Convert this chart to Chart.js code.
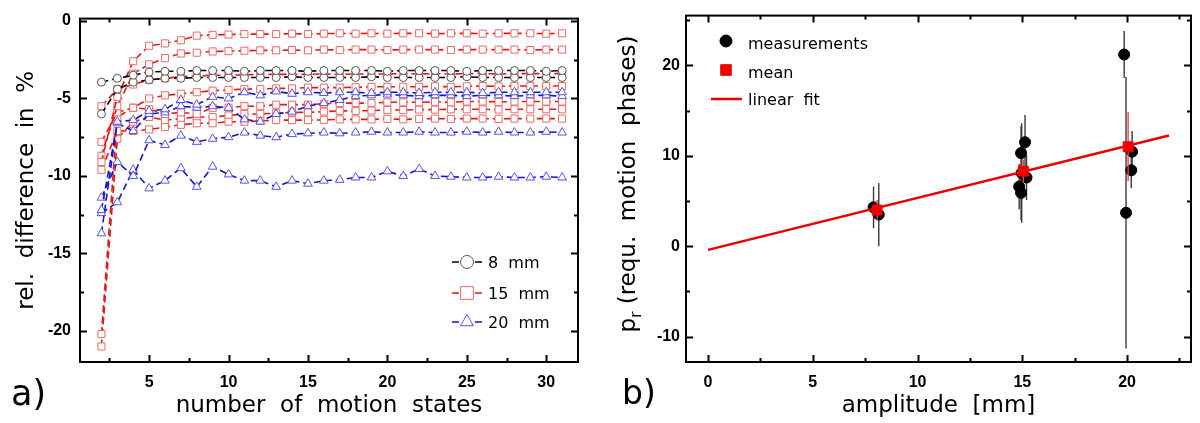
<!DOCTYPE html>
<html>
<head>
<meta charset="utf-8">
<script src="https://cdn.jsdelivr.net/npm/chart.js@4.4.0/dist/chart.umd.min.js"></script>
<style>
  body { margin: 0; background: #fff; }
  #wrap { position: relative; width: 1200px; height: 423px; }
  .panel { position: absolute; top: 0; width: 600px; height: 423px; }
</style>
</head>
<body>
<div id="wrap">
  <div class="panel" style="left:0"><canvas id="chartA"></canvas></div>
  <div class="panel" style="left:600px"><canvas id="chartB"></canvas></div>
</div>
<script>
// ---- panel a: relative difference vs number of motion states ----
const xStates = [2, 3, 4, 5, 6, 7, 8, 9, 10, 11,
                 12, 13, 14, 15, 16, 17, 18, 19, 20, 21,
                 22, 23, 24, 25, 26, 27, 28, 29, 30, 31];

// 8 mm
const diff8mmA = [-3.95, -3.70, -3.50, -3.30, -3.25, -3.25, -3.20, -3.20, -3.20, -3.25,
                  -3.20, -3.20, -3.20, -3.25, -3.20, -3.20, -3.20, -3.20, -3.25, -3.20,
                  -3.20, -3.20, -3.20, -3.25, -3.20, -3.20, -3.20, -3.20, -3.25, -3.20];
const diff8mmB = [-6.00, -4.40, -3.95, -3.80, -3.70, -3.70, -3.65, -3.65, -3.65, -3.65,
                  -3.65, -3.65, -3.60, -3.65, -3.65, -3.65, -3.65, -3.60, -3.65, -3.65,
                  -3.65, -3.65, -3.65, -3.60, -3.65, -3.65, -3.65, -3.65, -3.65, -3.65];
// 15 mm
const diff15mmA = [-9.10, -4.90, -2.60, -1.60, -1.45, -1.25, -0.95, -0.90, -0.88, -0.85,
                   -0.85, -0.85, -0.82, -0.85, -0.82, -0.80, -0.82, -0.80, -0.82, -0.80,
                   -0.80, -0.82, -0.80, -0.80, -0.82, -0.80, -0.80, -0.80, -0.82, -0.80];
const diff15mmB = [-8.70, -5.50, -3.40, -2.80, -2.40, -2.10, -2.05, -1.97, -1.95, -1.92,
                   -1.90, -1.90, -1.88, -1.90, -1.85, -1.88, -1.85, -1.85, -1.88, -1.85,
                   -1.85, -1.85, -1.88, -1.85, -1.85, -1.85, -1.85, -1.88, -1.85, -1.85];
const diff15mmC = [-5.50, -4.40, -4.10, -3.80, -3.70, -3.60, -3.55, -3.50, -3.50, -3.48,
                   -3.45, -3.45, -3.45, -3.45, -3.42, -3.45, -3.42, -3.42, -3.42, -3.40,
                   -3.42, -3.40, -3.42, -3.40, -3.40, -3.42, -3.40, -3.40, -3.40, -3.40];
const diff15mmD = [-7.80, -5.90, -5.60, -5.00, -4.80, -4.70, -4.60, -4.50, -4.45, -4.40,
                   -4.40, -4.35, -4.35, -4.30, -4.30, -4.30, -4.28, -4.25, -4.25, -4.25,
                   -4.25, -4.22, -4.25, -4.22, -4.20, -4.22, -4.20, -4.20, -4.20, -4.20];
const diff15mmE = [-9.60, -7.10, -7.10, -7.00, -6.85, -6.70, -6.60, -6.60, -6.50, -6.50,
                   -6.45, -6.40, -6.40, -6.40, -6.38, -6.35, -6.35, -6.35, -6.32, -6.35,
                   -6.32, -6.30, -6.32, -6.30, -6.30, -6.32, -6.30, -6.30, -6.30, -6.30];
const diff15mmF = [-20.20, -6.20, -5.60, -5.70, -6.00, -5.90, -6.00, -5.60, -5.60, -5.50,
                   -5.50, -5.40, -5.40, -5.40, -5.35, -5.30, -5.30, -5.30, -5.25, -5.25,
                   -5.25, -5.22, -5.25, -5.20, -5.20, -5.22, -5.20, -5.20, -5.20, -5.20];
const diff15mmG = [-21.00, -7.60, -6.50, -6.20, -6.40, -6.30, -6.20, -6.20, -6.10, -6.00,
                   -6.00, -5.95, -5.90, -5.90, -5.85, -5.80, -5.80, -5.78, -5.75, -5.75,
                   -5.72, -5.72, -5.70, -5.70, -5.70, -5.72, -5.70, -5.70, -5.70, -5.70];
// 20 mm
const diff20mmA = [-13.70, -6.50, -6.40, -5.80, -5.70, -5.10, -5.40, -4.90, -5.00, -4.60,
                   -4.80, -4.55, -4.70, -4.60, -4.65, -4.60, -4.60, -4.65, -4.60, -4.60,
                   -4.65, -4.60, -4.60, -4.60, -4.65, -4.60, -4.60, -4.60, -4.60, -4.60];
const diff20mmB = [-12.20, -6.60, -7.10, -6.00, -5.90, -5.50, -5.60, -5.50, -5.60, -6.35,
                   -6.50, -6.00, -5.85, -5.50, -5.30, -5.10, -4.85, -4.80, -4.75, -4.80,
                   -4.85, -4.80, -4.80, -4.85, -4.80, -4.80, -4.85, -4.80, -4.80, -4.85];
const diff20mmC = [-11.40, -9.10, -10.00, -7.70, -8.00, -7.40, -7.80, -7.60, -7.50, -7.20,
                   -7.40, -7.50, -7.30, -7.25, -7.20, -7.25, -7.20, -7.15, -7.20, -7.20,
                   -7.15, -7.20, -7.20, -7.15, -7.20, -7.15, -7.20, -7.20, -7.15, -7.20];
const diff20mmD = [-12.40, -11.70, -9.60, -10.80, -10.30, -9.50, -10.70, -9.40, -9.90, -10.30,
                   -10.30, -10.70, -10.30, -10.50, -10.30, -10.25, -10.10, -10.10, -9.70, -10.00,
                   -9.55, -10.00, -10.05, -10.10, -10.10, -10.05, -10.10, -10.10, -10.05, -10.10];

const legendLabelsA = ['8  mm', '15  mm', '20  mm'];
const xTicksA = [5, 10, 15, 20, 25, 30];
const xMinorA = [2.5, 7.5, 12.5, 17.5, 22.5, 27.5];
const yTicksA = [0, -5, -10, -15, -20];
const yMinorA = [-2.5, -7.5, -12.5, -17.5];

// ---- panel b: required motion phases vs amplitude ----
const measX = [7.90, 8.15, 15.13, 14.94, 14.97, 15.20, 14.85, 14.94, 19.86, 19.95, 20.24, 20.20];
const measY = [4.3, 3.5, 11.5, 10.3, 8.1, 7.6, 6.6, 5.9, 21.2, 3.7, 10.45, 8.4];
const measErr = [2.3, 3.5, 3.0, 3.0, 5.5, 2.5, 2.5, 3.0, 2.6, 15.0, 2.3, 2.0];
const meanX = [8.07, 15.05, 20.05];
const meanY = [4.0, 8.3, 11.0];
const meanErr = [1.1, 1.3, 3.8];
const fitX = [0, 22];
const fitY = [-0.4, 12.25];
const legendLabelsB = ['measurements', 'mean', 'linear  fit'];
const xTicksB = [0, 5, 10, 15, 20];
const xMinorB = [2.5, 7.5, 12.5, 17.5, 22.5];
const yTicksB = [-10, 0, 10, 20];
const yMinorB = [-5, 5, 15, 25];

Chart.defaults.font.family = "'DejaVu Sans', sans-serif";
Chart.defaults.color = '#000';
const tickFont = { family: "'Liberation Sans', sans-serif", size: 16, weight: 'bold' };

const setTicks = vals => s => { s.ticks = vals.map(v => ({ value: v })); };

// frame with inward ticks on all four sides
const frameTicks = {
  id: 'frameTicks',
  afterDatasetsDraw(chart, args, o) {
    const { ctx, chartArea: a, scales: { x, y } } = chart;
    ctx.save();
    ctx.strokeStyle = '#000';
    ctx.lineWidth = 2;
    ctx.beginPath();
    const tickX = (vals, len) => vals.forEach(v => {
      const px = Math.round(x.getPixelForValue(v)) + 0.5;
      ctx.moveTo(px, a.bottom); ctx.lineTo(px, a.bottom - len);
      ctx.moveTo(px, a.top); ctx.lineTo(px, a.top + len);
    });
    const tickY = (vals, len) => vals.forEach(v => {
      const py = Math.round(y.getPixelForValue(v)) + 0.5;
      ctx.moveTo(a.left, py); ctx.lineTo(a.left + len, py);
      ctx.moveTo(a.right, py); ctx.lineTo(a.right - len, py);
    });
    tickX(o.xMajor, 7); tickX(o.xMinor, 4);
    tickY(o.yMajor, 7); tickY(o.yMinor, 4);
    ctx.stroke();
    ctx.strokeRect(a.left, a.top, a.right - a.left, a.bottom - a.top);
    ctx.restore();
  }
};

// panel label "a)" / "b)"
const panelLabel = {
  id: 'panelLabel',
  afterDraw(chart, args, o) {
    const ctx = chart.ctx;
    ctx.save();
    ctx.font = o.size + "px 'DejaVu Sans', sans-serif";
    ctx.fillStyle = '#000';
    ctx.textBaseline = 'alphabetic';
    ctx.fillText(o.text, o.x, o.y);
    ctx.restore();
  }
};

// ---- chart a ----
const styles = {
  g8:  { line: '#000000', mark: '#555555', style: 'circle', r: 4 },
  g15: { line: 'rgb(225,25,25)', mark: 'rgb(235,105,105)', style: 'rect', r: 5 },
  g20: { line: 'rgb(20,20,205)', mark: 'rgb(85,85,230)', style: 'triangle', r: 5 }
};
function series(vals, st, order) {
  return {
    data: xStates.map((x, i) => ({ x: x, y: vals[i] })),
    borderColor: st.line, borderWidth: 1.6, borderDash: [7, 4],
    pointStyle: st.style, pointRadius: st.r,
    pointBorderColor: st.mark, pointBackgroundColor: '#fff', pointBorderWidth: 1,
    tension: 0, fill: false, order: order
  };
}

const legendA = {
  id: 'legendA',
  afterDraw(chart) {
    const ctx = chart.ctx;
    const items = [styles.g8, styles.g15, styles.g20];
    const rad = [6.5, 9, 7.5];
    const ys = [262, 293, 322];
    ctx.save();
    items.forEach((st, i) => {
      const yy = ys[i];
      ctx.strokeStyle = st.line; ctx.lineWidth = 1.5;
      ctx.beginPath();
      ctx.moveTo(452, yy); ctx.lineTo(459, yy);
      ctx.moveTo(475, yy); ctx.lineTo(482, yy);
      ctx.stroke();
      ctx.strokeStyle = st.mark; ctx.fillStyle = '#fff'; ctx.lineWidth = 1;
      Chart.helpers.drawPoint(ctx, { pointStyle: st.style, radius: rad[i], rotation: 0, borderWidth: 1 }, 467, yy);
      ctx.fillStyle = '#000';
      ctx.font = "16px 'DejaVu Sans', sans-serif";
      ctx.textBaseline = 'middle';
      ctx.fillText(legendLabelsA[i], 488, yy + 2);
    });
    ctx.restore();
  }
};

new Chart(document.getElementById('chartA'), {
  type: 'line',
  data: {
    datasets: [
      series(diff15mmA, styles.g15, 30), series(diff15mmB, styles.g15, 30),
      series(diff15mmC, styles.g15, 30), series(diff15mmD, styles.g15, 30),
      series(diff15mmE, styles.g15, 30), series(diff15mmF, styles.g15, 30),
      series(diff15mmG, styles.g15, 30),
      series(diff8mmA, styles.g8, 20), series(diff8mmB, styles.g8, 20),
      series(diff20mmA, styles.g20, 10), series(diff20mmB, styles.g20, 10),
      series(diff20mmC, styles.g20, 10), series(diff20mmD, styles.g20, 10)
    ]
  },
  options: {
    responsive: true, maintainAspectRatio: false, animation: false, events: [],
    layout: { padding: { left: 0, right: 22, top: 10, bottom: 0 } },
    scales: {
      x: {
        type: 'linear', min: 0.65, max: 32,
        afterBuildTicks: setTicks(xTicksA),
        afterFit: s => { s.height = 61; },
        grid: { display: false, drawTicks: false }, border: { display: false },
        ticks: { font: tickFont, padding: 11, maxRotation: 0, callback: v => String(v) },
        title: { display: true, text: 'number  of  motion  states', font: { size: 23 }, padding: { top: 0, bottom: 3 } }
      },
      y: {
        type: 'linear', min: -22, max: 0.15,
        afterBuildTicks: setTicks(yTicksA),
        afterFit: s => { s.width = 80; },
        grid: { display: false, drawTicks: false }, border: { display: false },
        ticks: { font: tickFont, padding: 9, callback: v => String(v) },
        title: { display: true, text: 'rel.  difference  in  %', font: { size: 23 }, padding: { top: 13, bottom: 0 } }
      }
    },
    plugins: {
      legend: { display: false }, tooltip: { enabled: false },
      frameTicks: { xMajor: xTicksA, xMinor: xMinorA, yMajor: yTicksA, yMinor: yMinorA },
      panelLabel: { text: 'a)', x: 11, y: 405, size: 35 }
    }
  },
  plugins: [frameTicks, panelLabel, legendA]
});

// ---- chart b ----
const measBars = measX.map((x, i) => ({
  data: [{ x: x, y: measY[i] - measErr[i] }, { x: x, y: measY[i] + measErr[i] }],
  showLine: true, borderColor: '#3a3a3a', borderWidth: 1.4, pointRadius: 0, order: 50
}));
const meanBars = meanX.map((x, i) => ({
  data: [{ x: x, y: meanY[i] - meanErr[i] }, { x: x, y: meanY[i] + meanErr[i] }],
  showLine: true, borderColor: 'rgb(235,70,70)', borderWidth: 1.4, pointRadius: 0, order: 20
}));

const yTitleB = {
  id: 'yTitleB',
  afterDraw(chart) {
    const ctx = chart.ctx;
    const main = ' (requ.  motion  phases)';
    ctx.save();
    ctx.fillStyle = '#000';
    ctx.textBaseline = 'middle';
    ctx.translate(29, 184);
    ctx.rotate(-Math.PI / 2);
    ctx.font = "23px 'DejaVu Sans', sans-serif";
    const wp = ctx.measureText('p').width;
    const wm = ctx.measureText(main).width;
    ctx.font = "15px 'DejaVu Sans', sans-serif";
    const wr = ctx.measureText('r').width;
    let x0 = -(wp + wr + wm) / 2;
    ctx.font = "23px 'DejaVu Sans', sans-serif";
    ctx.fillText('p', x0, 0);
    ctx.font = "15px 'DejaVu Sans', sans-serif";
    ctx.fillText('r', x0 + wp, 8);
    ctx.font = "23px 'DejaVu Sans', sans-serif";
    ctx.fillText(main, x0 + wp + wr, 0);
    ctx.restore();
  }
};

const legendB = {
  id: 'legendB',
  afterDraw(chart) {
    const ctx = chart.ctx;
    ctx.save();
    ctx.fillStyle = '#000';
    ctx.strokeStyle = '#000';
    Chart.helpers.drawPoint(ctx, { pointStyle: 'circle', radius: 6, rotation: 0, borderWidth: 1 }, 126, 41);
    ctx.fillStyle = 'rgb(240,0,0)';
    ctx.strokeStyle = 'rgb(240,0,0)';
    Chart.helpers.drawPoint(ctx, { pointStyle: 'rect', radius: 7.5, rotation: 0, borderWidth: 1 }, 126, 70);
    ctx.lineWidth = 2.5;
    ctx.beginPath(); ctx.moveTo(111, 99); ctx.lineTo(142, 99); ctx.stroke();
    ctx.fillStyle = '#000';
    ctx.font = "16px 'DejaVu Sans', sans-serif";
    ctx.textBaseline = 'middle';
    ctx.fillText(legendLabelsB[0], 148, 45);
    ctx.fillText(legendLabelsB[1], 148, 74);
    ctx.fillText(legendLabelsB[2], 148, 101);
    ctx.restore();
  }
};

new Chart(document.getElementById('chartB'), {
  type: 'scatter',
  data: {
    datasets: [
      ...measBars,
      {
        data: measX.map((x, i) => ({ x: x, y: measY[i] })),
        pointStyle: 'circle', pointRadius: 5.5, pointBackgroundColor: '#000', pointBorderColor: '#000',
        showLine: false, order: 40
      },
      {
        data: fitX.map((x, i) => ({ x: x, y: fitY[i] })),
        showLine: true, borderColor: 'rgb(235,0,0)', borderWidth: 2.5, pointRadius: 0, order: 30
      },
      ...meanBars,
      {
        data: meanX.map((x, i) => ({ x: x, y: meanY[i] })),
        pointStyle: 'rect', pointRadius: 7, pointBackgroundColor: 'rgb(240,0,0)', pointBorderColor: 'rgb(240,0,0)',
        showLine: false, order: 10
      }
    ]
  },
  options: {
    responsive: true, maintainAspectRatio: false, animation: false, events: [],
    layout: { padding: { left: 0, right: 9, top: 8, bottom: 0 } },
    scales: {
      x: {
        type: 'linear', min: -1.05, max: 23.05,
        afterBuildTicks: setTicks(xTicksB),
        afterFit: s => { s.height = 61; },
        grid: { display: false, drawTicks: false }, border: { display: false },
        ticks: { font: tickFont, padding: 11, maxRotation: 0, callback: v => String(v) },
        title: { display: true, text: 'amplitude  [mm]', font: { size: 23 }, padding: { top: 0, bottom: 3 } }
      },
      y: {
        type: 'linear', min: -12.8, max: 25.5,
        afterBuildTicks: setTicks(yTicksB),
        afterFit: s => { s.width = 86; },
        grid: { display: false, drawTicks: false }, border: { display: false },
        ticks: { font: tickFont, padding: 6, callback: v => String(v) },
        title: { display: false }
      }
    },
    plugins: {
      legend: { display: false }, tooltip: { enabled: false },
      frameTicks: { xMajor: xTicksB, xMinor: xMinorB, yMajor: yTicksB, yMinor: yMinorB },
      panelLabel: { text: 'b)', x: 22, y: 404, size: 33 }
    }
  },
  plugins: [frameTicks, panelLabel, yTitleB, legendB]
});
</script>
</body>
</html>
